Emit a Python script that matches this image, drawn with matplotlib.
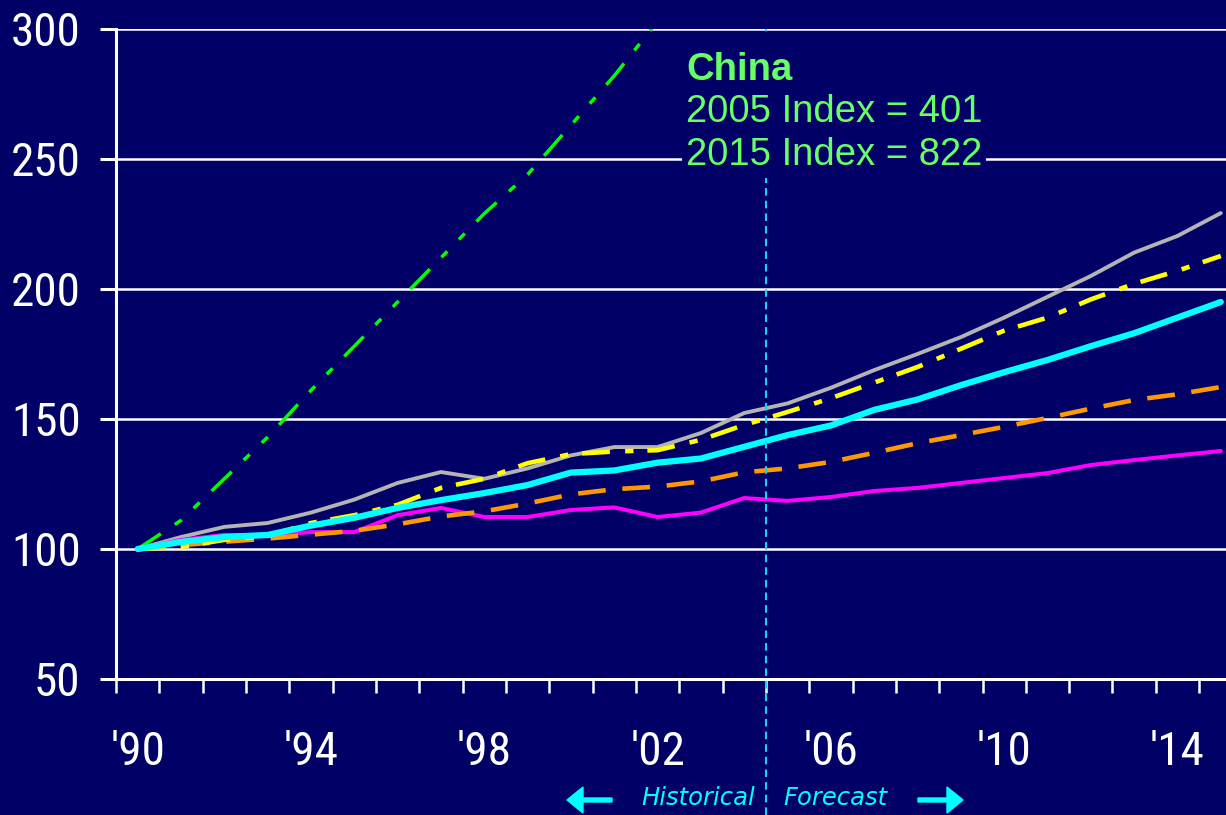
import matplotlib
matplotlib.use("Agg")
import matplotlib.pyplot as plt
from matplotlib.patches import Rectangle, FancyArrow

# ---- data -------------------------------------------------------------
years = list(range(1990, 2016))

china = [100, 111, 127, 143, 161, 178, 195, 212, 229, 244, 263, 282, 303,
         335, 367, 401, 433, 467, 505, 545, 588, 634, 684, 733, 778, 822]
gray_series = [100, 104.6, 108.5, 110, 114, 119, 125.4, 129.6, 127, 131, 136,
               139.2, 139.2, 144.6, 152.3, 156, 162, 168.8, 175, 181.5, 189,
               197, 205, 214, 220.4, 229.2]
yellow_series = [100, 100.8, 103.5, 105, 110, 113, 117, 123.5, 127, 133,
                 136.5, 137.5, 138, 142, 147.7, 152.7, 158, 164, 170, 177,
                 184, 189, 196, 202, 207, 212.7]
cyan_series = [100, 102.7, 104.6, 105.4, 109, 112, 115.8, 118.8, 121.5, 124.6,
               129.4, 130.2, 133.2, 134.8, 139.3, 143.8, 147.5, 153.5, 157.5,
               163, 168, 172.7, 178, 183, 189, 195]
orange_series = [100, 101.5, 102.8, 104, 105.5, 107, 109.5, 112.5, 114.5,
                 117.5, 121, 123, 124, 126, 129.5, 131, 133.5, 137, 140.7,
                 143.8, 147, 150.4, 154, 157.3, 159.5, 162.3]
magenta_series = [100, 103.5, 105.4, 105.4, 106.5, 106.5, 113, 115.8, 112.3,
                  112.3, 115, 116, 112.3, 114, 119.6, 118.5, 120, 122.3, 123.5,
                  125.4, 127.3, 129.2, 132.3, 134.2, 136, 137.7]

y_ticks = [50, 100, 150, 200, 250, 300]
x_tick_years = [1990, 1994, 1998, 2002, 2006, 2010, 2014]
x_tick_labels = ["'90", "'94", "'98", "'02", "'06", "'10", "'14"]
forecast_start = 2004.5

china_lines = ["China", "2005 Index = 401", "2015 Index = 822"]

# ---- style ------------------------------------------------------------
NAVY = "#000066"
W, H = 1226, 815
DPI = 100
plt.rcParams["lines.scale_dashes"] = False
tick_font = ["Roboto Condensed", "Noto Sans Condensed", "Liberation Sans Narrow",
             "Open Sans Condensed", "DejaVu Sans Condensed", "Liberation Sans"]

fig = plt.figure(figsize=(W / DPI, H / DPI), dpi=DPI, facecolor=NAVY)
ax = fig.add_axes([116 / W, (H - 679) / H, (W - 116) / W, (679 - 29) / H])
ax.set_facecolor(NAVY)

# ---- series -----------------------------------------------------------
ax.plot(years, gray_series, color="#B4B4B4", lw=2.8, zorder=3.1,
        solid_capstyle="round", solid_joinstyle="round")
ax.plot(years, magenta_series, color="#FF00FF", lw=2.9, zorder=3.2,
        solid_capstyle="round", solid_joinstyle="round")
ax.plot(years, orange_series, color="#FF9900", lw=3.3, zorder=3.3,
        linestyle=(0, (20, 12)), dash_capstyle="butt")
ax.plot(years, yellow_series, color="#FFFF00", lw=3.3, zorder=3.4,
        linestyle=(0, (20, 11, 6, 10)), dash_capstyle="butt")
ax.plot(years, china, color="#00FF00", lw=2.5, zorder=3.5,
        linestyle=(0, (20, 12, 6, 12, 6, 12)), dash_capstyle="butt")
ax.plot(years, cyan_series, color="#00FFFF", lw=4.5, zorder=3.6,
        solid_capstyle="round", solid_joinstyle="round")

# historical / forecast divider
ax.axvline(forecast_start, ymin=-(H - 679) / 650, ymax=1.0, clip_on=False,
           color="#1AD1F0", lw=1.5, linestyle=(0, (5.5, 3.6)), zorder=4)

# ---- axes -------------------------------------------------------------
ax.set_xlim(1989.5, 2015.12)
ax.set_ylim(50, 300)
for side in ("top", "right"):
    ax.spines[side].set_visible(False)
for side in ("left", "bottom"):
    ax.spines[side].set_color("white")
    ax.spines[side].set_linewidth(2.2)

ax.set_yticks(y_ticks)
ax.set_yticklabels([str(v) for v in y_ticks], family=tick_font, fontsize=34,
                   color="white")
ax.tick_params(axis="y", direction="out", length=11.5, width=2.2,
               color="white", pad=14)
for v in y_ticks[1:]:
    ax.axhline(v, color="white", lw=1.8, zorder=1)

ax.set_xticks(x_tick_years)
ax.set_xticklabels(x_tick_labels, family=tick_font, fontsize=34, color="white")
ax.set_xticks([y - 0.5 for y in years], minor=True)
ax.tick_params(axis="x", which="major", length=0, pad=37)
ax.tick_params(axis="x", which="minor", direction="out", length=10,
               width=1.8, color="white")

# ---- China note -------------------------------------------------------
fig.add_artist(Rectangle((682, H - 178), 304, 144, transform=None,
                         facecolor=NAVY, edgecolor="none", zorder=5))
note_font = ["Liberation Sans", "DejaVu Sans"]
baselines = [80, 122, 165]
for i, (txt, by) in enumerate(zip(china_lines, baselines)):
    fig.text(686 / W, (H - by) / H, txt, color="#66FF66", fontsize=27.5,
             family=note_font, fontweight="bold" if i == 0 else "normal",
             ha="left", va="baseline", zorder=6)

# ---- Historical / Forecast arrows -------------------------------------
fig.text(755 / W, 10 / H, "Historical", color="#00FFFF", fontsize=17.5,
         style="italic", family="DejaVu Sans", ha="right", va="baseline")
fig.text(783 / W, 10 / H, "Forecast", color="#00FFFF", fontsize=17.5,
         style="italic", family="DejaVu Sans", ha="left", va="baseline")
arrow_y = (H - 800) / DPI
fig.add_artist(FancyArrow(612 / DPI, arrow_y, -45 / DPI, 0, width=4 / DPI,
                          head_width=26 / DPI, head_length=16 / DPI,
                          length_includes_head=True, color="#00FFFF",
                          transform=fig.dpi_scale_trans))
fig.add_artist(FancyArrow(918 / DPI, arrow_y, 45 / DPI, 0, width=4 / DPI,
                          head_width=26 / DPI, head_length=16 / DPI,
                          length_includes_head=True, color="#00FFFF",
                          transform=fig.dpi_scale_trans))

fig.savefig("out.png", dpi=DPI, facecolor=NAVY)
